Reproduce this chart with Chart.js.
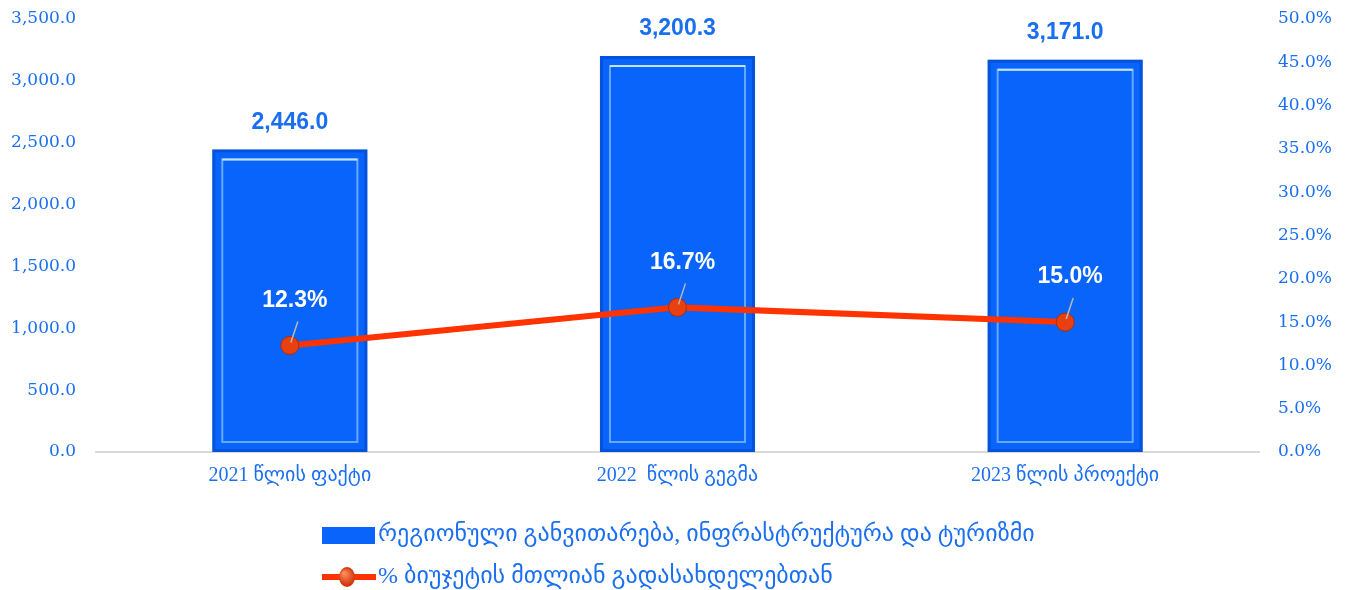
<!DOCTYPE html>
<html>
<head>
<meta charset="utf-8">
<script src="https://cdn.jsdelivr.net/npm/chart.js@4"></script>
<style>
  html, body { margin: 0; padding: 0; background: #fff; }
  #wrap { width: 1350px; height: 590px; }
</style>
</head>
<body>
<div id="wrap"><canvas id="chart" width="1350" height="590"></canvas></div>
<script>
var categories = ['2021 წლის ფაქტი', '2022  წლის გეგმა', '2023 წლის პროექტი'];
var barValues = [2446.0, 3200.3, 3171.0];
var pctValues = [12.3, 16.7, 15.0];
var barLabel = 'რეგიონული განვითარება, ინფრასტრუქტურა და ტურიზმი';
var lineLabel = '% ბიუჯეტის მთლიან გადასახდელებთან';

var blue = '#1a6ff0';
var barBlue = '#0864fb';
var red = '#ff3300';
var serif = "'DejaVu Serif', 'Liberation Serif', serif";
var georgian = "'Liberation Serif', 'DejaVu Sans', sans-serif";

var fmt = function (v, d) {
    return v.toLocaleString('en-US', { minimumFractionDigits: d, maximumFractionDigits: d });
};

// data labels + legend
var decor = {
    id: 'decor',
    afterDatasetsDraw: function (chart) {
        var ctx = chart.ctx;
        var bars = chart.getDatasetMeta(1).data;
        var pts = chart.getDatasetMeta(0).data;
        ctx.save();
        ctx.font = "bold 23px 'Liberation Sans', sans-serif";
        ctx.fillStyle = blue;
        ctx.textAlign = 'center';
        ctx.textBaseline = 'middle';
        bars.forEach(function (b, i) {
            ctx.fillText(fmt(barValues[i], 1), b.x, b.y - 27);
        });
        pts.forEach(function (p, i) {
            ctx.strokeStyle = '#b8b8b8';
            ctx.lineWidth = 1.5;
            ctx.beginPath();
            ctx.moveTo(p.x + 1, p.y - 3);
            ctx.lineTo(p.x + 8, p.y - 24);
            ctx.stroke();
            ctx.fillStyle = '#ffffff';
            ctx.fillText(fmt(pctValues[i], 1) + '%', p.x + 5, p.y - 45);
        });
        ctx.restore();
    },
    afterDraw: function (chart) {
        var ctx = chart.ctx;
        ctx.save();
        ctx.fillStyle = barBlue;
        ctx.fillRect(322, 527, 53, 17);
        ctx.strokeStyle = red;
        ctx.lineWidth = 6;
        ctx.beginPath();
        ctx.moveTo(322, 577);
        ctx.lineTo(376, 577);
        ctx.stroke();
        var g = ctx.createRadialGradient(344, 573, 1, 347, 577, 10);
        g.addColorStop(0, '#ff8a5c');
        g.addColorStop(1, '#c62a00');
        ctx.fillStyle = g;
        ctx.beginPath();
        ctx.ellipse(347, 577, 8, 10, 0, 0, Math.PI * 2);
        ctx.fill();
        ctx.fillStyle = blue;
        ctx.font = '24px ' + georgian;
        ctx.textAlign = 'left';
        ctx.textBaseline = 'middle';
        ctx.fillText(barLabel, 378, 535);
        ctx.fillText(lineLabel, 378, 577);
        ctx.restore();
    }
};

// bevel look on the bars
var bevel = {
    id: 'bevel',
    afterDatasetDraw: function (chart, args) {
        if (args.index !== 1) return;
        var ctx = chart.ctx;
        ctx.save();
        chart.getDatasetMeta(1).data.forEach(function (b) {
            var left = b.x - b.width / 2;
            var h = b.base - b.y;
            ctx.strokeStyle = 'rgba(0,50,160,0.35)';
            ctx.lineWidth = 3;
            ctx.strokeRect(left + 1.5, b.y + 1.5, b.width - 3, h - 3);
            ctx.strokeStyle = 'rgba(120,180,255,0.85)';
            ctx.lineWidth = 2;
            ctx.strokeRect(left + 10, b.y + 10, b.width - 20, h - 20);
            ctx.strokeStyle = 'rgba(200,230,255,0.95)';
            ctx.beginPath();
            ctx.moveTo(left + 10, b.y + 10);
            ctx.lineTo(left + b.width - 10, b.y + 10);
            ctx.stroke();
        });
        ctx.restore();
    }
};

// fixed axis sizes, drop tick padding from the vertical margins
var fitY = function (w) {
    return function (s) {
        s.width = w;
        s.paddingTop = 0;
        s.paddingBottom = 0;
    };
};

var ctx = document.getElementById('chart').getContext('2d');
new Chart(ctx, {
    data: {
        labels: categories,
        datasets: [{
            type: 'line',
            label: lineLabel,
            data: pctValues,
            yAxisID: 'y1',
            borderColor: red,
            borderWidth: 6,
            pointRadius: 9,
            pointHoverRadius: 9,
            pointBackgroundColor: '#e8410f',
            pointBorderColor: '#b52a00',
            pointBorderWidth: 1,
            tension: 0,
            order: 0
        }, {
            type: 'bar',
            label: barLabel,
            data: barValues,
            yAxisID: 'y',
            backgroundColor: barBlue,
            borderWidth: 0,
            categoryPercentage: 1,
            barPercentage: 0.4,
            order: 1
        }]
    },
    options: {
        responsive: false,
        animation: false,
        layout: { autoPadding: false, padding: { top: 19, left: 0, right: 0, bottom: 0 } },
        plugins: {
            legend: { display: false },
            tooltip: { enabled: false }
        },
        scales: {
            x: {
                grid: { display: false, drawTicks: false },
                border: { display: true, color: '#d9d9d9', width: 2 },
                ticks: {
                    color: blue,
                    font: { family: georgian, size: 20 },
                    padding: 12,
                    maxRotation: 0
                },
                afterFit: function (s) { s.height = 138; }
            },
            y: {
                position: 'left',
                min: 0,
                max: 3500,
                grid: { display: false, drawTicks: false },
                border: { display: false },
                ticks: {
                    stepSize: 500,
                    color: blue,
                    font: { family: serif, size: 17 },
                    padding: 20,
                    callback: function (v) { return fmt(v, 1); }
                },
                afterFit: fitY(96)
            },
            y1: {
                position: 'right',
                min: 0,
                max: 50,
                grid: { display: false, drawTicks: false },
                border: { display: false },
                ticks: {
                    stepSize: 5,
                    color: blue,
                    font: { family: serif, size: 17 },
                    padding: 19,
                    callback: function (v) { return fmt(v, 1) + '%'; }
                },
                afterFit: fitY(91)
            }
        }
    },
    plugins: [bevel, decor]
});
</script>
</body>
</html>
